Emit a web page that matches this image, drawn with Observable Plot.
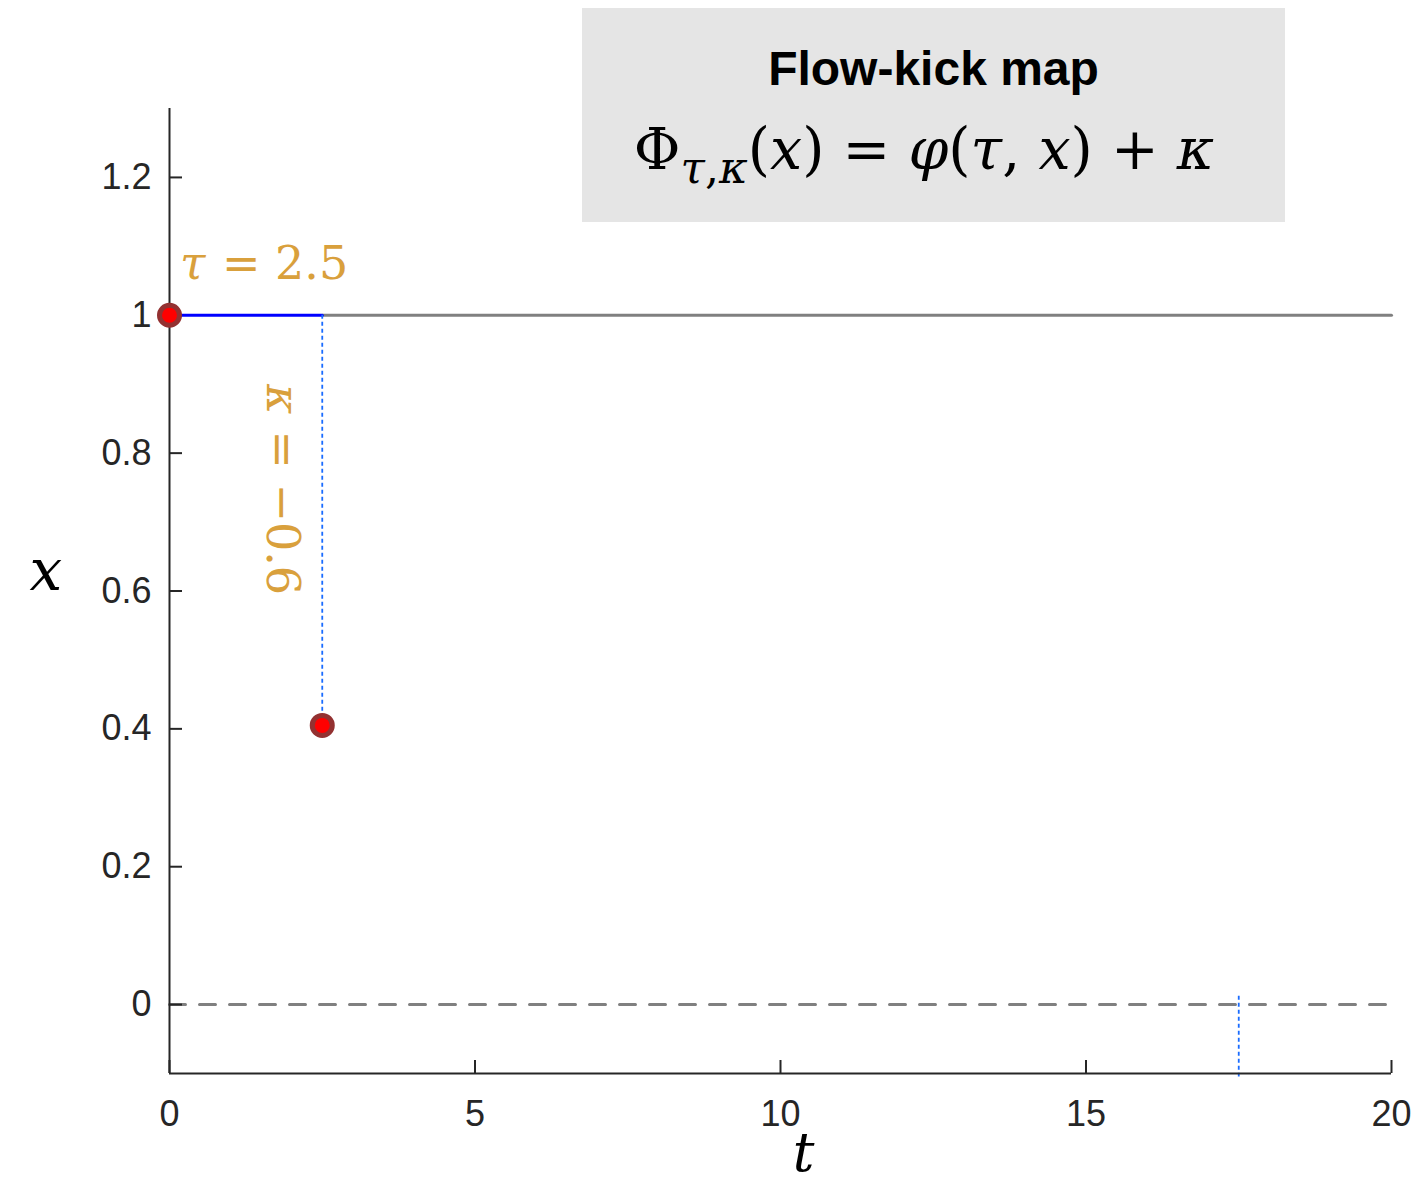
<!DOCTYPE html>
<html>
<head>
<meta charset="utf-8">
<script src="https://cdn.jsdelivr.net/npm/d3@7"></script>
<script src="https://cdn.jsdelivr.net/npm/@observablehq/plot@0.6"></script>
<style>
  html, body { margin: 0; padding: 0; background: #fff; }
  #wrap { position: relative; width: 1416px; height: 1184px; }
  #box { position: absolute; left: 582px; top: 8px; width: 703px; height: 214px; background: #e5e5e5; }
  #title { position: absolute; left: 0; width: 100%; top: 37px; text-align: center; font-family: "Liberation Sans", Arial, sans-serif; font-weight: bold; font-size: 48px; color: #000; line-height: 1; }
  #formula { position: absolute; left: 0; width: 684px; top: 113px; text-align: center; font-family: "DejaVu Serif", serif; font-size: 57px; color: #000; line-height: 1; white-space: nowrap; }
  #formula sub { font-size: 44px; vertical-align: -14px; line-height: 0; }
  #formula i { font-style: italic; }
</style>
</head>
<body>
<div id="wrap">
  <div id="chart"></div>
  <div id="box">
    <div id="title"></div>
    <div id="formula"></div>
  </div>
</div>
<script>
// ---- data ----
const xTicks = [0, 5, 10, 15, 20];
const yTicks = [0, 0.2, 0.4, 0.6, 0.8, 1, 1.2];
const flowT = [0, 2.5];
const flowX = [1, 1];
const eqT = [2.5, 20];
const eqX = [1, 1];
const zeroT = [0, 20];
const zeroX = [0, 0];
const kickT = [2.5];
const kickFrom = [1];
const kickTo = [0.405];
const pointT = [0, 2.5];
const pointX = [1, 0.405];
const nextKickT = [17.5];
const nextKickFrom = [0.012];
const nextKickTo = [-0.105];
const tauSym = ["τ"];
const tauValue = ["= 2.5"];
const tauPos = [{t: 0.17, x: 1.074}];
const kappaSym = ["κ"];
const kappaValue = ["= −0.6"];
const kappaPos = [{t: 1.84, x: 0.9}];
const titleText = "Flow-kick map";
const xLabel = "t";
const yLabel = "x";

const golden = "#d9a03c";
const serif = "DejaVu Serif";

const pts = (ts, xs) => ts.map((t, i) => ({t, x: xs[i]}));

const W = 1416, H = 1184, mL = 169, mR = 25, mT = 108, mB = 111;
const plotW = W - mL - mR, plotH = H - mT - mB;

const chart = Plot.plot({
  width: W, height: H,
  marginLeft: mL, marginRight: mR, marginTop: mT, marginBottom: mB,
  x: {domain: [0, 20]},
  y: {domain: [-0.1, 1.3]},
  style: {fontFamily: "Liberation Sans, Arial, sans-serif", fontSize: "36px", color: "#262626", background: "transparent"},
  marks: [
    Plot.line(pts(zeroT, zeroX), {x: "t", y: "x", stroke: "#808080", strokeWidth: 3, strokeDasharray: "16,14"}),
    Plot.line(pts(eqT, eqX), {x: "t", y: "x", stroke: "#808080", strokeWidth: 3}),
    Plot.line(pts(flowT, flowX), {x: "t", y: "x", stroke: "#0000ff", strokeWidth: 3}),
    Plot.ruleX(kickT.map((t, i) => ({t, a: kickFrom[i], b: kickTo[i]})), {x: "t", y1: "a", y2: "b", stroke: "#1a6cff", strokeWidth: 1.8, strokeDasharray: "4,3"}),
    Plot.ruleX(nextKickT.map((t, i) => ({t, a: nextKickFrom[i], b: nextKickTo[i]})), {x: "t", y1: "a", y2: "b", stroke: "#1a6cff", strokeWidth: 1.8, strokeDasharray: "4,3"}),
    // axis lines
    Plot.ruleX([0], {stroke: "#262626", strokeWidth: 2}),
    Plot.ruleY([-0.1], {stroke: "#262626", strokeWidth: 2}),
    // inward ticks
    Plot.tickY(yTicks, {y: d => d, insetRight: plotW - 13, stroke: "#262626", strokeWidth: 2}),
    Plot.tickX(xTicks, {x: d => d, insetTop: plotH - 13, stroke: "#262626", strokeWidth: 2}),
    Plot.axisY({ticks: yTicks, tickSize: 0, tickPadding: 18, tickFormat: d => String(d), label: null, fill: "#262626"}),
    Plot.axisX({ticks: xTicks, tickSize: 0, tickPadding: 27, tickFormat: d => String(d), label: null, fill: "#262626"}),
    // points
    Plot.dot(pts(pointT, pointX), {x: "t", y: "x", r: 10, fill: "#ff0000", stroke: "#933131", strokeWidth: 5}),
    // labels
    Plot.text(tauSym, {x: () => tauPos[0].t, y: () => tauPos[0].x, text: d => d, textAnchor: "start", fontSize: 46, fontFamily: serif, fontStyle: "italic", fill: golden}),
    Plot.text(tauValue, {x: () => tauPos[0].t, y: () => tauPos[0].x, text: d => d, textAnchor: "start", dx: 42, fontSize: 46, fontFamily: serif, fill: golden}),
    Plot.text(kappaSym, {x: () => kappaPos[0].t, y: () => kappaPos[0].x, text: d => d, textAnchor: "start", rotate: 90, fontSize: 46, fontFamily: serif, fontStyle: "italic", fill: golden}),
    Plot.text(kappaValue, {x: () => kappaPos[0].t, y: () => kappaPos[0].x, text: d => d, textAnchor: "start", rotate: 90, dy: 46, fontSize: 46, fontFamily: serif, fill: golden}),
    // axis titles
    Plot.text([xLabel], {frameAnchor: "bottom", text: d => d, dx: 23, dy: 97, fontSize: 54, fontFamily: serif, fontStyle: "italic", fill: "#000"}),
    Plot.text([yLabel], {frameAnchor: "left", text: d => d, dx: -140, dy: -20, fontSize: 58, fontFamily: serif, fontStyle: "italic", fill: "#000"})
  ]
});
document.getElementById("chart").appendChild(chart);
document.getElementById("title").textContent = titleText;
document.getElementById("formula").innerHTML =
  'Φ<sub><i>τ</i>,<i>κ</i></sub>(<i>x</i>) = <i>φ</i>(<i>τ</i>, <i>x</i>) + <i>κ</i>';
</script>
</body>
</html>
